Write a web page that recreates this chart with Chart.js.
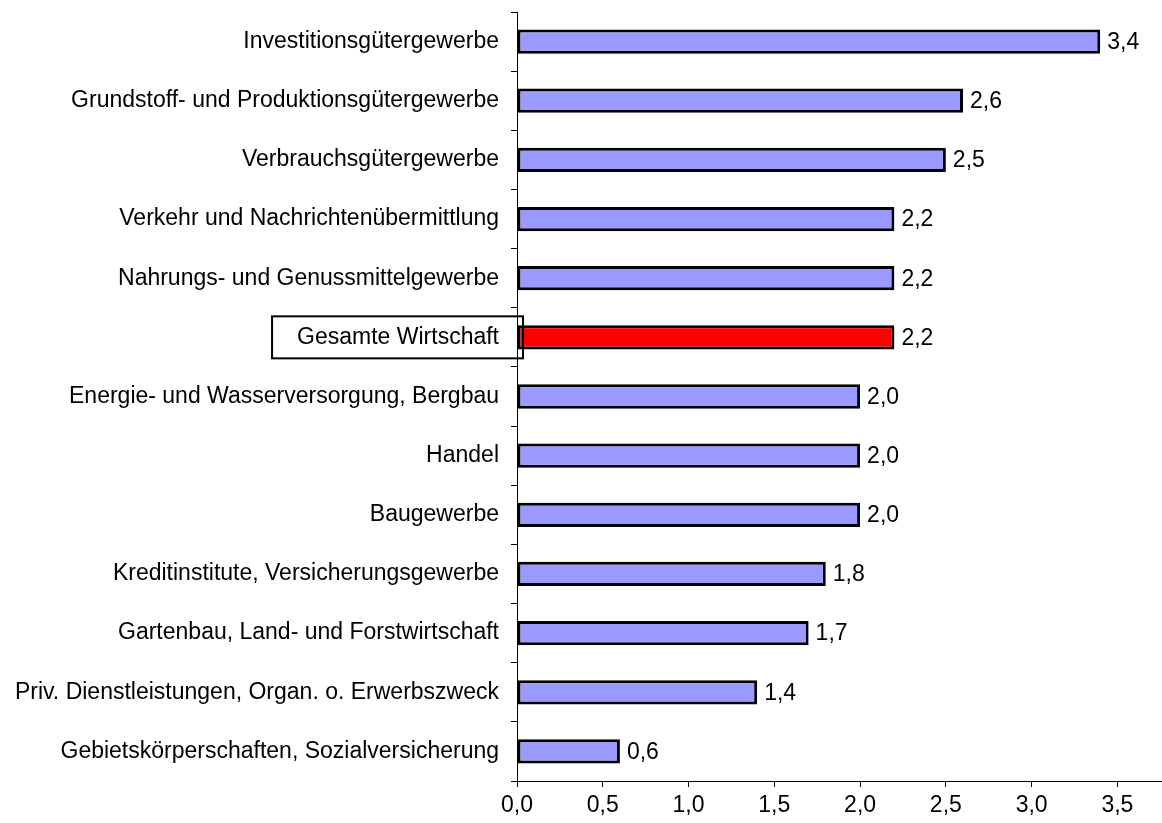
<!DOCTYPE html>
<html>
<head>
<meta charset="utf-8">
<script src="https://cdn.jsdelivr.net/npm/chart.js@4/dist/chart.umd.min.js"></script>
<style>
  html, body { margin: 0; padding: 0; background: #fff; }
  #wrap { width: 1162px; height: 823px; }
</style>
</head>
<body>
<div id="wrap"><canvas id="barChart"></canvas></div>
<script>
// Categories (top to bottom) and values in %
const categories = [
  'Investitionsgütergewerbe',
  'Grundstoff- und Produktionsgütergewerbe',
  'Verbrauchsgütergewerbe',
  'Verkehr und Nachrichtenübermittlung',
  'Nahrungs- und Genussmittelgewerbe',
  'Gesamte Wirtschaft',
  'Energie- und Wasserversorgung, Bergbau',
  'Handel',
  'Baugewerbe',
  'Kreditinstitute, Versicherungsgewerbe',
  'Gartenbau, Land- und Forstwirtschaft',
  'Priv. Dienstleistungen, Organ. o. Erwerbszweck',
  'Gebietskörperschaften, Sozialversicherung'
];
const values = [3.4, 2.6, 2.5, 2.2, 2.2, 2.2, 2.0, 2.0, 2.0, 1.8, 1.7, 1.4, 0.6];
const xTicks = [0, 0.5, 1.0, 1.5, 2.0, 2.5, 3.0, 3.5];
const highlight = 'Gesamte Wirtschaft';

const fontFamily = '"Liberation Sans", Arial, sans-serif';
const fontSize = 23;
const fmt = v => v.toFixed(1).replace('.', ',');

// value labels to the right of each bar
const valueLabels = {
  id: 'valueLabels',
  afterDatasetsDraw(chart) {
    const ctx = chart.ctx;
    const meta = chart.getDatasetMeta(0);
    ctx.save();
    ctx.font = fontSize + 'px ' + fontFamily;
    ctx.fillStyle = '#000';
    ctx.textAlign = 'left';
    ctx.textBaseline = 'middle';
    meta.data.forEach((bar, i) => {
      ctx.fillText(fmt(values[i]), bar.x + 7, bar.y + 1);
    });
    ctx.restore();
  }
};

// frame around the highlighted category label
const labelBox = {
  id: 'labelBox',
  afterDraw(chart) {
    const ctx = chart.ctx;
    const y = chart.scales.y;
    const idx = categories.indexOf(highlight);
    const cy = y.getPixelForValue(idx);
    ctx.save();
    ctx.font = fontSize + 'px ' + fontFamily;
    const textRight = y.right - 18;
    const w = ctx.measureText(highlight).width;
    const left = textRight - w - 25;
    const right = y.right + 6;
    ctx.strokeStyle = '#000';
    ctx.lineWidth = 2;
    ctx.strokeRect(left, cy - 21, right - left, 42);
    ctx.restore();
  }
};

new Chart(document.getElementById('barChart'), {
  type: 'bar',
  data: {
    labels: categories,
    datasets: [{
      data: values,
      backgroundColor: categories.map(c => c === highlight ? '#FF0000' : '#9999FF'),
      borderColor: '#000',
      borderWidth: 3,
      borderSkipped: false,
      categoryPercentage: 1.0,
      barPercentage: 0.41
    }]
  },
  options: {
    indexAxis: 'y',
    responsive: true,
    maintainAspectRatio: false,
    animation: false,
    devicePixelRatio: 1,
    layout: { padding: { top: 12, left: 0, right: 0, bottom: 0 } },
    plugins: {
      legend: { display: false },
      tooltip: { enabled: false }
    },
    scales: {
      x: {
        min: 0,
        max: 3.76,
        afterBuildTicks: (scale) => {
          scale.ticks = xTicks.map(v => ({ value: v }));
        },
        afterFit: (scale) => {
          scale.height = 42;
          scale.paddingLeft = 0;
          scale.paddingRight = 0;
        },
        border: { color: '#000', width: 1 },
        grid: { drawOnChartArea: false, color: '#000', tickLength: 6 },
        ticks: {
          color: '#000',
          padding: 5,
          font: { family: fontFamily, size: fontSize },
          callback: v => fmt(v)
        }
      },
      y: {
        afterFit: (scale) => {
          scale.width = 517;
          scale.paddingTop = 0;
          scale.paddingBottom = 0;
        },
        border: { color: '#000', width: 1 },
        grid: { drawOnChartArea: false, color: '#000', tickLength: 6 },
        ticks: {
          color: '#000',
          padding: 12,
          font: { family: fontFamily, size: fontSize }
        }
      }
    }
  },
  plugins: [valueLabels, labelBox]
});
</script>
</body>
</html>
